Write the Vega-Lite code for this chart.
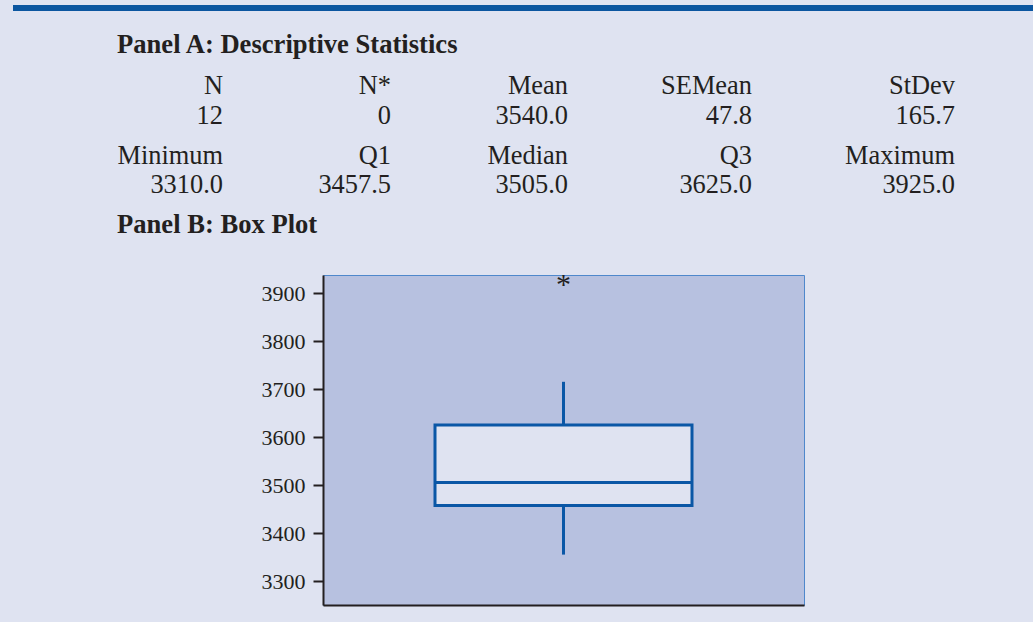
{
  "$schema": "https://vega.github.io/schema/vega-lite/v6.json",
  "background": "#dfe3f1",
  "padding": {"left": 10, "top": 5, "right": 0, "bottom": 17},
  "spacing": 11,
  "config": {
    "view": {"stroke": null},
    "axis": {
      "labelFont": "Liberation Serif",
      "labelFontSize": 22,
      "labelColor": "#231f20",
      "domainColor": "#231f20",
      "domainWidth": 2,
      "tickColor": "#231f20",
      "tickWidth": 2,
      "tickSize": 10,
      "labelPadding": 8,
      "grid": false
    }
  },
  "vconcat": [
    {
      "width": 1023,
      "height": 250,
      "data": {
        "values": [
          {"text": "Panel A: Descriptive Statistics", "col": 0, "line": 1, "role": "heading"},
          {"text": "N", "col": 1, "line": 2, "role": "label"},
          {"text": "N*", "col": 2, "line": 2, "role": "label"},
          {"text": "Mean", "col": 3, "line": 2, "role": "label"},
          {"text": "SEMean", "col": 4, "line": 2, "role": "label"},
          {"text": "StDev", "col": 5, "line": 2, "role": "label"},
          {"text": "12", "col": 1, "line": 3, "role": "value"},
          {"text": "0", "col": 2, "line": 3, "role": "value"},
          {"text": "3540.0", "col": 3, "line": 3, "role": "value"},
          {"text": "47.8", "col": 4, "line": 3, "role": "value"},
          {"text": "165.7", "col": 5, "line": 3, "role": "value"},
          {"text": "Minimum", "col": 1, "line": 4, "role": "label"},
          {"text": "Q1", "col": 2, "line": 4, "role": "label"},
          {"text": "Median", "col": 3, "line": 4, "role": "label"},
          {"text": "Q3", "col": 4, "line": 4, "role": "label"},
          {"text": "Maximum", "col": 5, "line": 4, "role": "label"},
          {"text": "3310.0", "col": 1, "line": 5, "role": "value"},
          {"text": "3457.5", "col": 2, "line": 5, "role": "value"},
          {"text": "3505.0", "col": 3, "line": 5, "role": "value"},
          {"text": "3625.0", "col": 4, "line": 5, "role": "value"},
          {"text": "3925.0", "col": 5, "line": 5, "role": "value"},
          {"text": "Panel B: Box Plot", "col": 0, "line": 6, "role": "heading"}
        ]
      },
      "layer": [
        {
          "data": {"values": [{"element": "top bar"}]},
          "mark": {"type": "rule", "color": "#0b56a0", "strokeWidth": 6},
          "encoding": {
            "x": {"datum": 0, "type": "quantitative", "scale": {"domain": [0, 1]}, "axis": null},
            "x2": {"datum": 1},
            "y": {"datum": 0, "type": "quantitative", "scale": {"domain": [0, 1], "reverse": true}, "axis": null}
          }
        },
        {
          "transform": [{"filter": "datum.role === 'heading'"}],
          "mark": {"type": "text", "align": "left", "baseline": "alphabetic", "font": "Liberation Serif", "fontSize": 26.6, "fontWeight": "bold", "color": "#231f20"},
          "encoding": {
            "x": {"field": "col", "type": "quantitative", "scale": {"domain": [0, 1, 2, 3, 4, 5], "range": [104, 210, 378, 555, 739, 942]}, "axis": null},
            "y": {"field": "line", "type": "quantitative", "scale": {"domain": [1, 2, 3, 4, 5, 6], "range": [45, 86, 116, 156, 185, 225]}, "axis": null},
            "text": {"field": "text"}
          }
        },
        {
          "transform": [{"filter": "datum.role !== 'heading'"}],
          "mark": {"type": "text", "align": "right", "baseline": "alphabetic", "font": "Liberation Serif", "fontSize": 26.4, "color": "#231f20"},
          "encoding": {
            "x": {"field": "col", "type": "quantitative", "scale": {"domain": [0, 1, 2, 3, 4, 5], "range": [104, 210, 378, 555, 739, 942]}, "axis": null},
            "y": {"field": "line", "type": "quantitative", "scale": {"domain": [1, 2, 3, 4, 5, 6], "range": [45, 86, 116, 156, 185, 225]}, "axis": null},
            "text": {"field": "text"}
          }
        }
      ],
      "resolve": {"scale": {"x": "independent", "y": "independent"}}
    },
    {
      "spacing": 0,
      "hconcat": [
        {
          "width": 247,
          "height": 330,
          "data": {"values": []},
          "mark": {"type": "point", "opacity": 0},
          "encoding": {}
        },
        {
          "width": 481,
          "height": 330,
          "view": {"fill": "#b7c1e0", "stroke": "#4f88cc", "strokeWidth": 1},
          "data": {
            "values": [
              {"variable": "Sample", "lower": 3355, "q1": 3457.5, "median": 3505, "q3": 3625, "upper": 3715, "outlier": 3925}
            ]
          },
          "encoding": {
            "x": {
              "field": "variable",
              "type": "nominal",
              "scale": {"paddingInner": 0, "paddingOuter": 0.4358},
              "axis": {"title": null, "labels": false, "ticks": false}
            }
          },
          "layer": [
            {
              "mark": {"type": "bar", "fill": "#dfe3f1", "stroke": "#0a57a6", "strokeWidth": 3},
              "encoding": {
                "y": {"field": "q1", "type": "quantitative", "scale": {"domain": [3250, 3937.5], "nice": false, "zero": false}, "axis": {"title": null, "format": "d", "values": [3300, 3400, 3500, 3600, 3700, 3800, 3900]}},
                "y2": {"field": "q3"}
              }
            },
            {
              "mark": {"type": "bar", "fill": null, "stroke": "#0a57a6", "strokeWidth": 3},
              "encoding": {
                "y": {"field": "median", "type": "quantitative", "scale": {"domain": [3250, 3937.5], "nice": false, "zero": false}, "axis": {"title": null, "format": "d", "values": [3300, 3400, 3500, 3600, 3700, 3800, 3900]}},
                "y2": {"field": "median"}
              }
            },
            {
              "mark": {"type": "rule", "color": "#0a57a6", "strokeWidth": 3},
              "encoding": {
                "y": {"field": "q3", "type": "quantitative", "scale": {"domain": [3250, 3937.5], "nice": false, "zero": false}, "axis": {"title": null, "format": "d", "values": [3300, 3400, 3500, 3600, 3700, 3800, 3900]}},
                "y2": {"field": "upper"}
              }
            },
            {
              "mark": {"type": "rule", "color": "#0a57a6", "strokeWidth": 3},
              "encoding": {
                "y": {"field": "lower", "type": "quantitative", "scale": {"domain": [3250, 3937.5], "nice": false, "zero": false}, "axis": {"title": null, "format": "d", "values": [3300, 3400, 3500, 3600, 3700, 3800, 3900]}},
                "y2": {"field": "q1"}
              }
            },
            {
              "mark": {"type": "text", "text": "*", "font": "Liberation Serif", "fontSize": 30, "baseline": "alphabetic", "align": "center", "dy": 13, "color": "#231f20"},
              "encoding": {
                "y": {"field": "outlier", "type": "quantitative", "scale": {"domain": [3250, 3937.5], "nice": false, "zero": false}, "axis": {"title": null, "format": "d", "values": [3300, 3400, 3500, 3600, 3700, 3800, 3900]}}
              }
            }
          ]
        }
      ]
    }
  ]
}
